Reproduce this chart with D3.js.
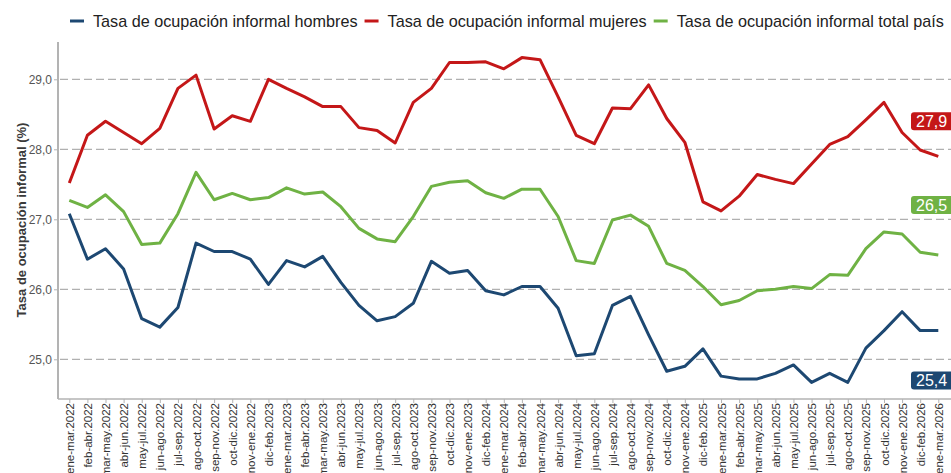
<!DOCTYPE html>
<html lang="es">
<head>
<meta charset="utf-8">
<script src="https://cdn.jsdelivr.net/npm/d3@7"></script>
<style>
  html, body { margin: 0; padding: 0; background: #fff; }
  #graph { width: 951px; height: 473px; overflow: hidden; }
  svg { display: block; font-family: "Liberation Sans", Arial, sans-serif; }
  .grid line { stroke: #b0b0b0; stroke-width: 1.2; stroke-dasharray: 8 4; }
  .axis path, .axis line { stroke: #b3b3b3; }
  .tick-label { fill: #333; font-size: 11.5px; }
  .y-label { fill: #555; font-size: 12px; }
</style>
</head>
<body>
<div id="graph"></div>
<script>
const periods = [
  "ene-mar.2022", "feb-abr.2022", "mar-may.2022", "abr-jun.2022", "may-jul.2022", "jun-ago.2022",
  "jul-sep.2022", "ago-oct.2022", "sep-nov.2022", "oct-dic.2022", "nov-ene.2022", "dic-feb.2023",
  "ene-mar.2023", "feb-abr.2023", "mar-may.2023", "abr-jun.2023", "may-jul.2023", "jun-ago.2023",
  "jul-sep.2023", "ago-oct.2023", "sep-nov.2023", "oct-dic.2023", "nov-ene.2023", "dic-feb.2024",
  "ene-mar.2024", "feb-abr.2024", "mar-may.2024", "abr-jun.2024", "may-jul.2024", "jun-ago.2024",
  "jul-sep.2024", "ago-oct.2024", "sep-nov.2024", "oct-dic.2024", "nov-ene.2024", "dic-feb.2025",
  "ene-mar.2025", "feb-abr.2025", "mar-may.2025", "abr-jun.2025", "may-jul.2025", "jun-ago.2025",
  "jul-sep.2025", "ago-oct.2025", "sep-nov.2025", "oct-dic.2025", "nov-ene.2025", "dic-feb.2026",
  "ene-mar.2026"
];

const hombres = [
  27.08, 26.43, 26.58, 26.29, 25.58, 25.46, 25.74, 26.66, 26.54, 26.54, 26.43, 26.07,
  26.41, 26.32, 26.47, 26.10, 25.77, 25.55, 25.61, 25.80, 26.40, 26.23, 26.27, 25.98,
  25.92, 26.04, 26.04, 25.73, 25.05, 25.08, 25.77, 25.90, 25.35, 24.83, 24.90, 25.15,
  24.76, 24.72, 24.72, 24.80, 24.92, 24.67, 24.80, 24.67, 25.16, 25.41, 25.68, 25.41,
  25.41
];

const mujeres = [
  27.52, 28.20, 28.40, 28.24, 28.08, 28.30, 28.87, 29.06, 28.29, 28.48, 28.40, 29.00,
  28.87, 28.75, 28.61, 28.61, 28.31, 28.27, 28.09, 28.67, 28.87, 29.24, 29.24, 29.25,
  29.15, 29.31, 29.28, 28.75, 28.20, 28.08, 28.59, 28.58, 28.92, 28.44, 28.10, 27.25,
  27.12, 27.33, 27.64, 27.57, 27.51, 27.79, 28.07, 28.18, 28.42, 28.67, 28.24, 27.99,
  27.90
];

const total = [
  27.27, 27.17, 27.35, 27.11, 26.64, 26.66, 27.08, 27.67, 27.28, 27.37, 27.28, 27.31,
  27.45, 27.36, 27.39, 27.18, 26.87, 26.72, 26.68, 27.04, 27.47, 27.53, 27.55, 27.38,
  27.30, 27.43, 27.43, 27.04, 26.41, 26.37, 26.99, 27.06, 26.90, 26.37, 26.27, 26.04,
  25.78, 25.84, 25.98, 26.00, 26.04, 26.01, 26.21, 26.20, 26.58, 26.82, 26.79, 26.53,
  26.49
];

const seriesNames = [
  "Tasa de ocupación informal hombres",
  "Tasa de ocupación informal mujeres",
  "Tasa de ocupación informal total país"
];

const yTicks = [ 25, 26, 27, 28, 29 ];

// colours and end-label nudges (px) per series
const colors = [ "#1d4872", "#c41718", "#6fb244" ];
const labelNudge = [ 50, -35, -50 ];

let options = {
  width: 951,
  height: 473,
  margins: { top: 42, right: 0, left: 58, bottom: 75 }
};

const series = [ hombres, mujeres, total ].map( ( values, i ) => ({
  name: seriesNames[i],
  color: colors[i],
  nudge: labelNudge[i],
  values: values.map( ( v, j ) => ({ period: periods[j], value: v }) )
}));

let svg = d3.select( "#graph" )
  .append( "svg" )
  .attr( "width", options.width )
  .attr( "height", options.height );

const plotBottom = options.height - options.margins.bottom + 1;

let xScale = d3.scalePoint()
  .domain( periods )
  .range( [ 69.3, 938.3 ] );

let yScale = d3.scaleLinear()
  .domain( [ 24.433, 29.533 ] )
  .range( [ plotBottom, options.margins.top ] );

// dashed gridlines
svg.append( "g" )
  .attr( "class", "grid" )
  .selectAll( "line" )
  .data( yTicks )
  .enter()
  .append( "line" )
  .attr( "x1", options.margins.left + 2 )
  .attr( "x2", options.width )
  .attr( "y1", d => yScale( d ) )
  .attr( "y2", d => yScale( d ) );

// y axis
let yAxis = svg.append( "g" )
  .attr( "class", "axis" )
  .attr( "transform", `translate(${ options.margins.left },0)` )
  .call( d3.axisLeft( yScale ).tickValues( yTicks ).tickSize( 4 ).tickFormat( d => d3.format( ".1f" )( d ).replace( ".", "," ) ) );

yAxis.select( ".domain" )
  .attr( "d", `M0,${ options.margins.top }V${ plotBottom }` )
  .attr( "stroke-width", 2 );

yAxis.selectAll( "text" )
  .attr( "class", "y-label" )
  .attr( "x", -6 );

// x axis
let xAxis = svg.append( "g" )
  .attr( "class", "axis" )
  .attr( "transform", `translate(0,${ plotBottom })` )
  .call( d3.axisBottom( xScale ).tickSize( 4 ) );

xAxis.select( ".domain" )
  .attr( "d", `M${ options.margins.left },0H${ options.width }` )
  .attr( "stroke-width", 1.5 );

xAxis.selectAll( "text" )
  .attr( "class", "tick-label" )
  .attr( "transform", "rotate(-90)" )
  .attr( "text-anchor", "end" )
  .attr( "x", -4 )
  .attr( "y", 0 )
  .attr( "dy", "0.35em" );

// y title
svg.append( "text" )
  .text( "Tasa de ocupación informal (%)" )
  .attr( "transform", `translate(21,220) rotate(-90)` )
  .attr( "text-anchor", "middle" )
  .attr( "dy", "0.35em" )
  .attr( "font-size", "13px" )
  .attr( "font-weight", "bold" )
  .attr( "fill", "#3a3a3a" );

// lines
let line = d3.line()
  .x( d => xScale( d.period ) )
  .y( d => yScale( d.value ) );

svg.selectAll( ".series" )
  .data( series )
  .enter()
  .append( "path" )
  .attr( "class", "series" )
  .attr( "d", d => line( d.values ) )
  .attr( "fill", "none" )
  .attr( "stroke", d => d.color )
  .attr( "stroke-width", 3 )
  .attr( "stroke-linejoin", "round" );

// end labels
let endLabels = svg.selectAll( ".end-label" )
  .data( series )
  .enter()
  .append( "g" )
  .attr( "class", "end-label" )
  .attr( "transform", d => {
    let last = d.values[ d.values.length - 1 ];
    return `translate(911,${ yScale( last.value ) + d.nudge })`;
  });

endLabels.append( "rect" )
  .attr( "x", 0 )
  .attr( "y", -9 )
  .attr( "width", 46 )
  .attr( "height", 18 )
  .attr( "rx", 3 )
  .attr( "fill", d => d.color );

endLabels.append( "text" )
  .text( d => d3.format( ".1f" )( d.values[ d.values.length - 1 ].value ).replace( ".", "," ) )
  .attr( "x", 5 )
  .attr( "dy", "0.36em" )
  .attr( "font-size", "16px" )
  .attr( "fill", "#fff" );

// legend
let legend = svg.append( "g" )
  .attr( "id", "legend" );

let lx = 70;
series.forEach( s => {
  legend.append( "line" )
    .attr( "x1", lx )
    .attr( "x2", lx + 14 )
    .attr( "y1", 21 )
    .attr( "y2", 21 )
    .attr( "stroke", s.color )
    .attr( "stroke-width", 3 );

  let t = legend.append( "text" )
    .text( s.name )
    .attr( "x", lx + 23 )
    .attr( "y", 21 )
    .attr( "dy", "0.35em" )
    .attr( "font-size", "16.2px" )
    .attr( "fill", "#222" );

  lx += 23 + t.node().getComputedTextLength() + 7;
});
</script>
</body>
</html>
